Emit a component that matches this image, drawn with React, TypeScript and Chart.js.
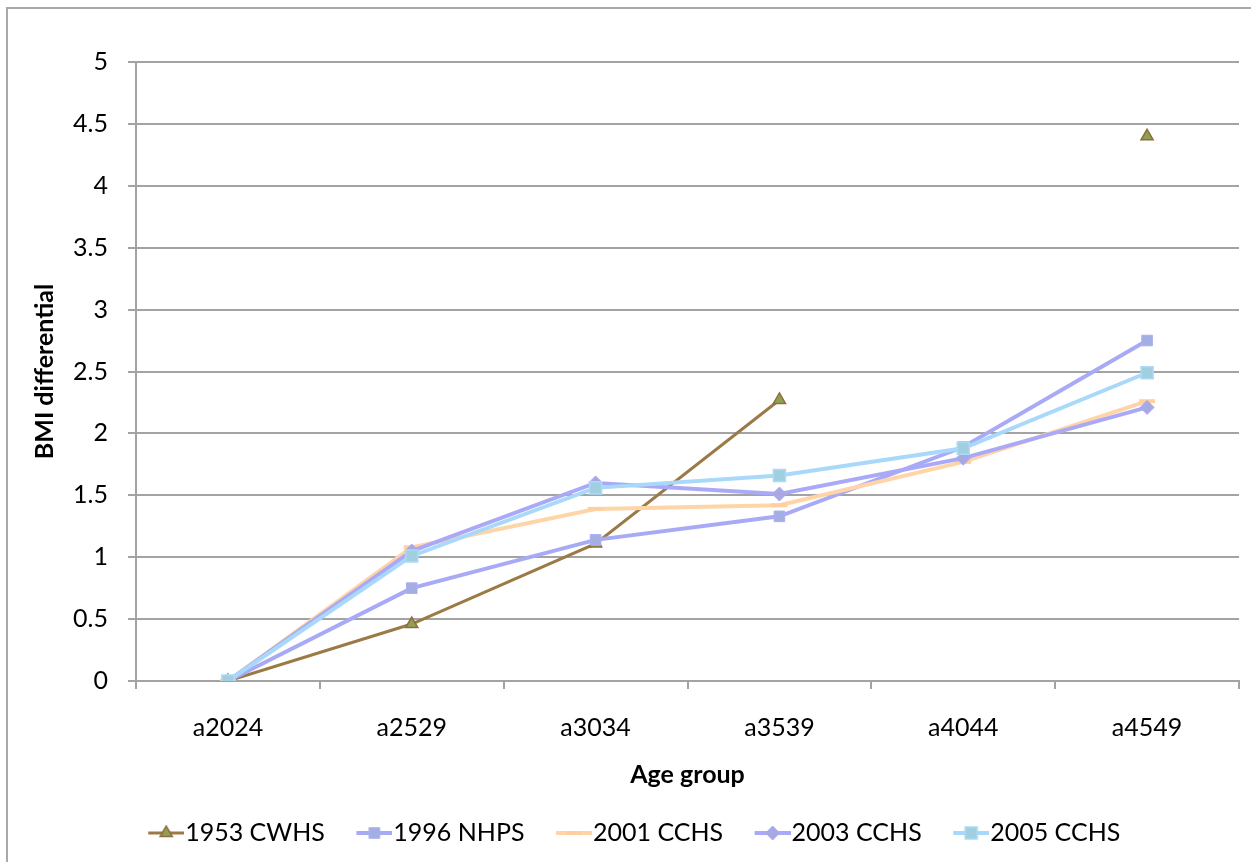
import { useEffect, useRef } from 'react';
import { Chart, registerables } from 'chart.js';

Chart.register(...registerables);

// Age-group categories and BMI differential per survey
const ageGroups = ['a2024', 'a2529', 'a3034', 'a3539', 'a4044', 'a4549'];
const seriesNames = ['1953 CWHS', '1996 NHPS', '2001 CCHS', '2003 CCHS', '2005 CCHS'];
const cwhs1953 = [0, 0.46, 1.11, 2.27, null, 4.4];
const nhps1996 = [0, 0.75, 1.14, 1.33, 1.89, 2.75];
const cchs2001 = [0, 1.08, 1.39, 1.42, 1.77, 2.26];
const cchs2003 = [0, 1.05, 1.6, 1.51, 1.8, 2.21];
const cchs2005 = [0, 1.01, 1.56, 1.66, 1.88, 2.49];
const yMin = 0;
const yMax = 5;
const yStep = 0.5;

const FONT = "Lato, 'Open Sans', sans-serif";

type MarkerStyle = 'triangle' | 'rect' | 'rectRot' | 'line';
interface SeriesStyle {
  line: string;
  lineWidth: number;
  marker: MarkerStyle;
  radius: number;
  fill: string;
  stroke: string;
  strokeWidth: number;
}

const styles: SeriesStyle[] = [
  { line: '#9c7a45', lineWidth: 3, marker: 'triangle', radius: 7, fill: '#8fa055', stroke: '#8e6d3c', strokeWidth: 1.5 },
  { line: '#a9aaf6', lineWidth: 4, marker: 'rect', radius: 7.5, fill: '#a4aee2', stroke: '#aab0f2', strokeWidth: 1 },
  { line: '#ffd4a6', lineWidth: 4, marker: 'line', radius: 8, fill: '#ffcfa0', stroke: '#ffcfa0', strokeWidth: 4 },
  { line: '#aaa9f8', lineWidth: 4, marker: 'rectRot', radius: 7, fill: '#a8a8e2', stroke: '#aaaaf4', strokeWidth: 1 },
  { line: '#a8d8fa', lineWidth: 4, marker: 'rect', radius: 8.5, fill: '#a2cfe0', stroke: '#abdaf6', strokeWidth: 1.5 },
];

function drawMarker(ctx: CanvasRenderingContext2D, s: SeriesStyle, x: number, y: number) {
  ctx.fillStyle = s.fill;
  ctx.strokeStyle = s.stroke;
  ctx.lineWidth = s.strokeWidth;
  const r = s.radius;
  ctx.beginPath();
  if (s.marker === 'triangle') {
    ctx.moveTo(x, y - r);
    ctx.lineTo(x + r * Math.sin((2 * Math.PI) / 3), y - r * Math.cos((2 * Math.PI) / 3));
    ctx.lineTo(x + r * Math.sin((4 * Math.PI) / 3), y - r * Math.cos((4 * Math.PI) / 3));
    ctx.closePath();
    ctx.fill();
    ctx.stroke();
  } else if (s.marker === 'rect') {
    const h = r * Math.SQRT1_2;
    ctx.rect(x - h, y - h, 2 * h, 2 * h);
    ctx.fill();
    ctx.stroke();
  } else if (s.marker === 'rectRot') {
    ctx.moveTo(x, y - r);
    ctx.lineTo(x + r, y);
    ctx.lineTo(x, y + r);
    ctx.lineTo(x - r, y);
    ctx.closePath();
    ctx.fill();
    ctx.stroke();
  } else {
    ctx.moveTo(x - r, y);
    ctx.lineTo(x + r, y);
    ctx.stroke();
  }
}

// Legend key: a short line segment with the series marker, placed at the
// right end of a wider transparent image so it sits next to its label.
const ICON_W = 69;
const ICON_H = 24;
const KEY_LEN = 36;
function makeLegendIcon(s: SeriesStyle): HTMLCanvasElement {
  const c = document.createElement('canvas');
  c.width = ICON_W;
  c.height = ICON_H;
  const ctx = c.getContext('2d')!;
  const x0 = ICON_W - KEY_LEN;
  const cy = ICON_H / 2;
  ctx.strokeStyle = s.line;
  ctx.lineWidth = s.lineWidth;
  ctx.beginPath();
  ctx.moveTo(x0, cy);
  ctx.lineTo(ICON_W, cy);
  ctx.stroke();
  drawMarker(ctx, s, x0 + KEY_LEN / 2, cy);
  return c;
}

export default function App() {
  const canvasRef = useRef<HTMLCanvasElement | null>(null);

  useEffect(() => {
    const canvas = canvasRef.current;
    if (!canvas) return;
    const values = [cwhs1953, nhps1996, cchs2001, cchs2003, cchs2005];
    const icons = styles.map(makeLegendIcon);

    const datasets = values.map((data, i) => {
      const s = styles[i];
      return {
        label: seriesNames[i],
        data,
        borderColor: s.line,
        borderWidth: s.lineWidth,
        backgroundColor: s.fill,
        pointStyle: s.marker,
        pointRadius: s.radius,
        pointHoverRadius: s.radius,
        pointBackgroundColor: s.fill,
        pointBorderColor: s.stroke,
        pointBorderWidth: s.strokeWidth,
        tension: 0,
        spanGaps: false,
        fill: false,
        order: values.length - 1 - i,
      };
    });

    const chart = new Chart(canvas, {
      type: 'line',
      data: { labels: ageGroups, datasets: datasets as any },
      options: {
        animation: false,
        responsive: false,
        devicePixelRatio: 1,
        layout: { padding: { top: 53, right: 19, bottom: 13.5, left: 0 } },
        plugins: {
          tooltip: { enabled: false },
          legend: {
            position: 'bottom',
            align: 'center',
            labels: {
              usePointStyle: true,
              pointStyleWidth: 46,
              padding: 10,
              color: '#000',
              font: { family: FONT, size: 25 },
              generateLabels: (ch: any) =>
                ch.data.datasets.map((ds: any, i: number) => ({
                  text: ds.label,
                  pointStyle: icons[i],
                  fillStyle: 'rgba(0,0,0,0)',
                  strokeStyle: 'rgba(0,0,0,0)',
                  lineWidth: 0,
                  hidden: false,
                  datasetIndex: i,
                  fontColor: '#000',
                })),
            },
          },
        },
        scales: {
          x: {
            type: 'category',
            offset: true,
            afterFit: (scale: any) => {
              scale.height = 129.5;
            },
            grid: {
              offset: true,
              drawOnChartArea: false,
              drawTicks: true,
              tickLength: 8,
              color: '#a3a3a3',
              lineWidth: 2,
            },
            border: { display: true, color: '#a3a3a3', width: 2 },
            ticks: {
              color: '#000',
              padding: 24,
              font: { family: FONT, size: 25 },
              maxRotation: 0,
            },
            title: {
              display: true,
              text: 'Age group',
              color: '#000',
              font: { family: FONT, size: 25, weight: 'bold' },
              padding: { top: 0, bottom: 20.5 },
            },
          },
          y: {
            min: yMin,
            max: yMax,
            afterFit: (scale: any) => {
              scale.width = 128;
            },
            grid: {
              color: '#a3a3a3',
              lineWidth: 2,
              tickLength: 8,
              drawTicks: true,
            },
            border: { display: true, color: '#a3a3a3', width: 2 },
            ticks: {
              stepSize: yStep,
              color: '#000',
              padding: 20,
              font: { family: FONT, size: 25 },
              callback: (value: any) => String(Math.round(Number(value) * 10) / 10),
            },
            title: {
              display: true,
              text: 'BMI differential',
              color: '#000',
              font: { family: FONT, size: 25, weight: 'bold' },
              padding: { top: 22, bottom: 0 },
            },
          },
        },
      },
    });

    return () => chart.destroy();
  }, []);

  return (
    <div style={{ position: 'fixed', inset: 0, overflow: 'hidden', background: '#fff' }}>
      <div
        style={{
          position: 'absolute',
          left: 6,
          top: 7,
          width: 1300,
          height: 900,
          border: '2px solid #a9a9a9',
          boxSizing: 'border-box',
        }}
      />
      <canvas
        ref={canvasRef}
        width={1250}
        height={860}
        style={{ position: 'absolute', left: 8, top: 9, width: 1250, height: 860 }}
      />
    </div>
  );
}
